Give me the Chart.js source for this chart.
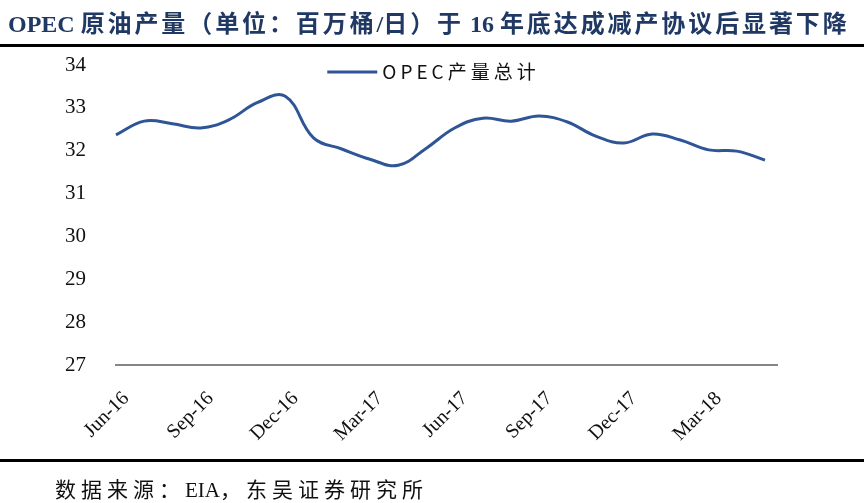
<!DOCTYPE html>
<html>
<head>
<meta charset="utf-8">
<script src="https://cdn.jsdelivr.net/npm/chart.js@4.4.1/dist/chart.umd.min.js"></script>
<style>
  html, body { margin: 0; padding: 0; background: #fff; }
  body { width: 864px; height: 503px; position: relative; overflow: hidden; }
  #wrap { position: absolute; left: 0; top: 0; width: 864px; height: 503px; }
  #title {
    position: absolute; left: 8px; top: 4px; white-space: nowrap;
    font: bold 24px "Liberation Serif", "Noto Sans CJK SC", serif;
    color: #1F3864; letter-spacing: 2.9px;
  }
  .lat { letter-spacing: 0; }
  .rule { position: absolute; left: 0; width: 864px; background: #000; }
  #src {
    position: absolute; left: 55px; top: 473px; white-space: nowrap;
    font: 21px "Liberation Serif", "Noto Sans CJK SC", serif;
    color: #111; letter-spacing: 5px;
  }
</style>
</head>
<body>
<div id="wrap"><canvas id="opecChart" width="864" height="503"></canvas></div>
<div id="title"><span class="lat">OPEC </span>原油产量（单位：百万桶<span class="lat">/</span>日）于<span class="lat"> 16 </span>年底达成减产协议后显著下降</div>
<div class="rule" style="top:44px;height:3px;"></div>
<div class="rule" style="top:459px;height:3px;"></div>
<div id="src">数据来源：<span class="lat">EIA</span>，东吴证券研究所</div>

<script>
// 월별 카테고리 (Jun-16 ~ May-18)
const months = [
    'Jun-16', 'Jul-16', 'Aug-16', 'Sep-16', 'Oct-16', 'Nov-16',
    'Dec-16', 'Jan-17', 'Feb-17', 'Mar-17', 'Apr-17', 'May-17',
    'Jun-17', 'Jul-17', 'Aug-17', 'Sep-17', 'Oct-17', 'Nov-17',
    'Dec-17', 'Jan-18', 'Feb-18', 'Mar-18', 'Apr-18', 'May-18'
];

// OPEC产量总计 (百万桶/日)
const production = [
    32.37, 32.69, 32.63, 32.53, 32.72, 33.12,
    33.27, 32.30, 32.04, 31.80, 31.66, 32.06,
    32.53, 32.76, 32.69, 32.81, 32.67, 32.34,
    32.18, 32.39, 32.25, 32.02, 31.99, 31.78
];

const yMin = 27;
const yMax = 34;
const labelEvery = 3;

const serif = '"Liberation Serif", "Noto Sans CJK SC", serif';

// 차트 영역 안에 범례 + x축 연장선
const insideLegend = {
    id: 'insideLegend',
    afterDraw(chart) {
        const { ctx, chartArea } = chart;
        const ds = chart.data.datasets[0];
        ctx.save();

        // x축이 마지막 점보다 조금 더 길게
        ctx.strokeStyle = '#868686';
        ctx.lineWidth = 2;
        ctx.beginPath();
        ctx.moveTo(chartArea.right - 1, chartArea.bottom);
        ctx.lineTo(chartArea.right + 13, chartArea.bottom);
        ctx.stroke();

        ctx.font = '19px "Noto Sans CJK SC", sans-serif';
        ctx.letterSpacing = '4px';
        const tw = ctx.measureText(ds.label).width;
        const lineW = 50, gap = 5;
        const x0 = (chartArea.left + chartArea.right) / 2 - 7 - (lineW + gap + tw) / 2;
        const y = chartArea.top + 7;

        ctx.strokeStyle = ds.borderColor;
        ctx.lineWidth = 3;
        ctx.beginPath();
        ctx.moveTo(x0, y);
        ctx.lineTo(x0 + lineW, y);
        ctx.stroke();

        ctx.fillStyle = '#111';
        ctx.textBaseline = 'middle';
        ctx.fillText(ds.label, x0 + lineW + gap, y);
        ctx.restore();
    }
};

const config = {
    type: 'line',
    data: {
        labels: months,
        datasets: [{
            label: 'OPEC产量总计',
            data: production,
            borderColor: '#2F5597',
            backgroundColor: '#2F5597',
            borderWidth: 3,
            pointRadius: 0,
            tension: 0.4,
            fill: false
        }]
    },
    options: {
        responsive: false,
        animation: false,
        layout: { padding: { top: 65, right: 99, left: 0, bottom: 0 } },
        plugins: {
            legend: { display: false },
            tooltip: { enabled: false }
        },
        scales: {
            x: {
                grid: { display: false, drawTicks: false },
                border: { display: true, color: '#868686', width: 2 },
                ticks: {
                    autoSkip: false,
                    minRotation: 45,
                    maxRotation: 45,
                    padding: 22,
                    labelOffset: 10,
                    color: '#111',
                    font: { family: serif, size: 20 },
                    callback: (v, i) => (i % labelEvery === 0 ? months[i] : '')
                },
                afterFit: (s) => { s.height = 138; }
            },
            y: {
                min: yMin,
                max: yMax,
                grid: { display: false, drawTicks: false },
                border: { display: false },
                ticks: {
                    stepSize: 1,
                    padding: 30,
                    color: '#111',
                    font: { family: serif, size: 21 }
                },
                afterFit: (s) => { s.width = 116; }
            }
        }
    },
    plugins: [insideLegend]
};

const opecChart = new Chart(document.getElementById('opecChart'), config);
</script>
</body>
</html>
